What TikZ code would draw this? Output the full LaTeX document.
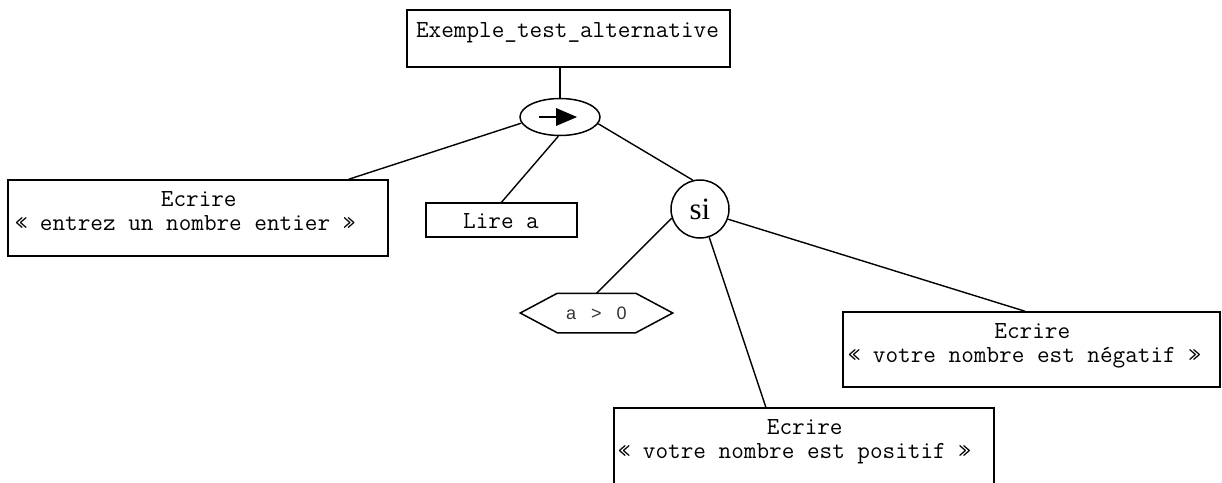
\documentclass[tikz,border=0pt]{standalone}
\usepackage{fontspec}
\setmainfont{Liberation Serif}
\newfontfamily\condfont{Liberation Sans}
\usetikzlibrary{shapes.geometric,calc}

% two-line box caption: first line centred over a given width, second line flush left
\newcommand{\twolines}[3]{\vtop{\baselineskip=24pt\hbox{\makebox[#1]{#2}}\hbox{#3}}}

\begin{document}
\begin{tikzpicture}[x=1pt,y=-1pt,line width=1.5pt,
  box/.style={draw,rectangle,inner sep=0pt},
  txt/.style={font=\ttfamily\fontsize{24.5}{26}\selectfont,inner sep=0pt},
  link/.style={draw,line width=1.4pt}]
\useasboundingbox (0,0) rectangle (1222,482);
\clip (0,0) rectangle (1222,482);

% program header
\node[box,minimum width=323,minimum height=57] (top) at (568.5,38.5) {};
\node[txt,anchor=base] (toptxt) at (567.5,37) {Exemple\_test\_alternative};

% sequence node
\node[draw,ellipse,minimum width=80,minimum height=37,inner sep=0pt] (seq) at (560,117) {};
\draw ($(seq)+(-21,0)$) -- ($(seq)+(-3,0)$);
\fill ($(seq)+(-4,-9)$) -- ($(seq)+(17,0)$) -- ($(seq)+(-4,9)$) -- cycle;

% first write
\node[box,minimum width=380,minimum height=76] (w1) at (198,218) {};
\node[txt,anchor=base west] (w1t) at (14,206)
  {\twolines{368pt}{Ecrire}{« entrez un nombre entier »}};

% read
\node[box,minimum width=151,minimum height=34] (lire) at (501.5,220) {};
\node[txt,anchor=base] (liretxt) at (501,228) {Lire a};

% alternative
\node[draw,circle,minimum size=58,inner sep=0pt,font=\fontsize{31}{33}\selectfont] (si) at (700,209) {si};

% condition
\node[minimum width=151,minimum height=38,inner sep=0pt,
      font=\condfont\fontsize{18}{20}\selectfont,text=black!80] (hex) at (596.5,313) {a\ \ \ >\ \ \ 0};
\draw (hex.west) -- ([xshift=37]hex.north west) -- ([xshift=-37]hex.north east)
  -- (hex.east) -- ([xshift=-37]hex.south east) -- ([xshift=37]hex.south west) -- cycle;

% negative branch
\node[box,minimum width=377,minimum height=75] (w2) at (1031.5,349.5) {};
\node[txt,anchor=base west] (w2t) at (847,338)
  {\twolines{369pt}{Ecrire}{« votre nombre est négatif »}};

% positive branch
\node[box,minimum width=380,minimum height=76] (w3) at (804,446) {};
\node[txt,anchor=base west] (w3t) at (617,434)
  {\twolines{374pt}{Ecrire}{« votre nombre est positif »}};

% tree edges
\draw[link] (top.south -| seq.north) -- (seq.north);
\draw[link] (seq.189) -- ($(w1.north west)!0.895!(w1.north east)$);
\draw[link] (seq.265) -- (lire.north);
\draw[link] (seq.350) -- (si.104);
\draw[link] (si.198) -- (hex.north);
\draw[link] (si.288) -- ($(w3.north west)!0.4!(w3.north east)$);
\draw[link] (si.340) -- ($(w2.north west)!0.483!(w2.north east)$);
\end{tikzpicture}
\end{document}
